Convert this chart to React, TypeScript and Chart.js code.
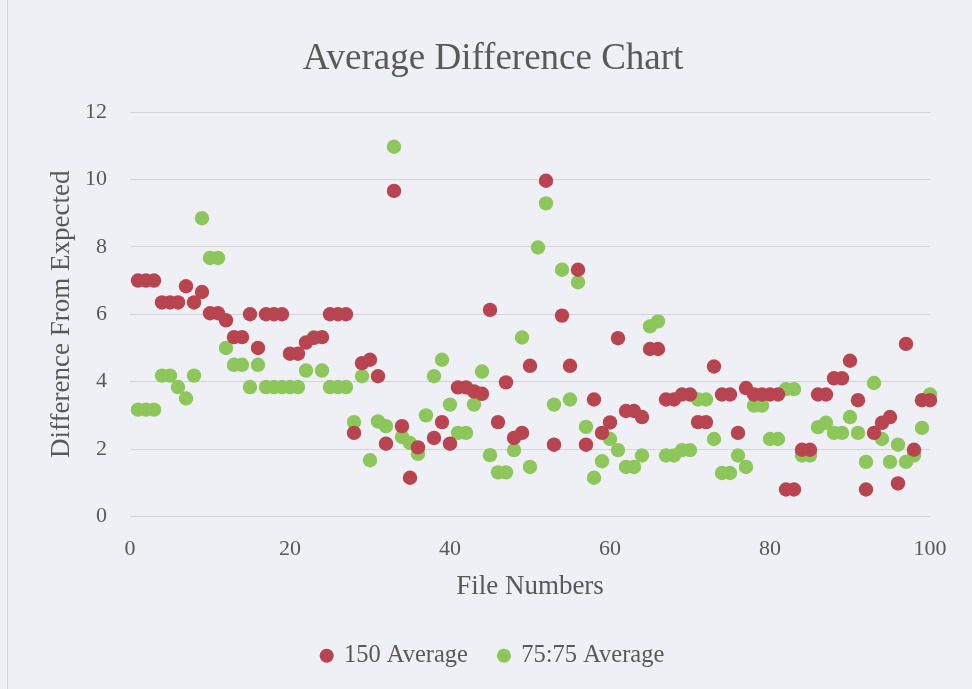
import React, { useEffect, useRef } from "react";
import { Chart, registerables } from "chart.js";

Chart.register(...registerables);

const fileNumbers = [
  1, 2, 3, 4, 5, 6, 7, 8, 9, 10,
  11, 12, 13, 14, 15, 16, 17, 18, 19, 20,
  21, 22, 23, 24, 25, 26, 27, 28, 29, 30,
  31, 32, 33, 34, 35, 36, 37, 38, 39, 40,
  41, 42, 43, 44, 45, 46, 47, 48, 49, 50,
  51, 52, 53, 54, 55, 56, 57, 58, 59, 60,
  61, 62, 63, 64, 65, 66, 67, 68, 69, 70,
  71, 72, 73, 74, 75, 76, 77, 78, 79, 80,
  81, 82, 83, 84, 85, 86, 87, 88, 89, 90,
  91, 92, 93, 94, 95, 96, 97, 98, 99, 100,
];

const avg150: (number | null)[] = [
  7.0, 7.0, 7.0, 6.35, 6.35, 6.35, 6.83, 6.35, 6.66, 6.03,
  6.03, 5.82, 5.32, 5.32, 6.0, 5.0, 6.0, 6.0, 6.0, 4.83,
  4.83, 5.16, 5.3, 5.32, 6.0, 6.0, 6.0, 2.48, 4.55, 4.65,
  4.16, 2.16, 9.66, 2.68, 1.15, 2.05, null, 2.33, 2.8, 2.16,
  3.83, 3.83, 3.71, 3.64, 6.13, 2.8, 3.98, 2.33, 2.48, 4.47,
  null, 9.96, 2.13, 5.96, 4.47, 7.32, 2.13, 3.47, 2.48, 2.79,
  5.29, 3.13, 3.13, 2.95, 4.97, 4.97, 3.47, 3.47, 3.62, 3.62,
  2.8, 2.8, 4.45, 3.62, 3.62, 2.48, 3.81, 3.62, 3.62, 3.62,
  3.62, 0.8, 0.8, 1.98, 1.98, 3.62, 3.62, 4.1, 4.1, 4.62,
  3.45, 0.8, 2.48, 2.78, 2.95, 0.98, 5.12, 1.98, 3.45, 3.45,
];

const avg7575: (number | null)[] = [
  3.17, 3.17, 3.17, 4.18, 4.18, 3.84, 3.5, 4.18, 8.85, 7.67,
  7.67, 5.0, 4.5, 4.5, 3.84, 4.5, 3.84, 3.84, 3.84, 3.84,
  3.84, 4.33, 5.32, 4.33, 3.84, 3.84, 3.84, 2.8, 4.16, 1.67,
  2.82, 2.68, 10.97, 2.36, 2.18, 1.86, 3.0, 4.16, 4.65, 3.32,
  2.48, 2.48, 3.32, 4.3, 1.82, 1.31, 1.31, 1.97, 5.31, 1.47,
  7.98, 9.29, 3.32, 7.32, 3.47, 6.95, 2.66, 1.15, 1.64, 2.3,
  1.97, 1.47, 1.47, 1.81, 5.64, 5.79, 1.81, 1.81, 1.97, 1.97,
  3.47, 3.47, 2.3, 1.29, 1.29, 1.81, 1.47, 3.29, 3.29, 2.3,
  2.3, 3.78, 3.78, 1.81, 1.81, 2.65, 2.78, 2.48, 2.48, 2.95,
  2.48, 1.62, 3.96, 2.3, 1.62, 2.13, 1.62, 1.81, 2.63, 3.62,
];

const seriesNames = ["150 Average", "75:75 Average"];
const xTicks = [0, 20, 40, 60, 80, 100];
const yTicks = [0, 2, 4, 6, 8, 10, 12];

const RED = "#b8444f";
const GREEN = "#8dc65a";
const TEXT = "#595959";
const FONT = "'Liberation Serif', 'Times New Roman', serif";

const toPoints = (ys: (number | null)[]) =>
  fileNumbers
    .map((x, i) => ({ x, y: ys[i] }))
    .filter((p) => p.y !== null) as { x: number; y: number }[];

const frameLine = {
  id: "frameLine",
  beforeDraw(chart: any) {
    const { ctx, height } = chart;
    ctx.save();
    ctx.strokeStyle = "#d6d8de";
    ctx.lineWidth = 1;
    ctx.beginPath();
    ctx.moveTo(7.5, 0);
    ctx.lineTo(7.5, height);
    ctx.stroke();
    ctx.restore();
  },
};

export default function App() {
  const canvasRef = useRef<HTMLCanvasElement | null>(null);

  useEffect(() => {
    document.body.style.margin = "0";
    const canvas = canvasRef.current;
    if (!canvas) return;
    const chart = new Chart(canvas, {
      type: "scatter",
      data: {
        datasets: [
          {
            label: seriesNames[0],
            data: toPoints(avg150),
            backgroundColor: RED,
            borderColor: RED,
            borderWidth: 0,
            pointRadius: 7.2,
            pointHoverRadius: 7.2,
            clip: false,
          },
          {
            label: seriesNames[1],
            data: toPoints(avg7575),
            backgroundColor: GREEN,
            borderColor: GREEN,
            borderWidth: 0,
            pointRadius: 7.2,
            pointHoverRadius: 7.2,
            clip: false,
          },
        ],
      },
      plugins: [frameLine],
      options: {
        animation: false,
        responsive: false,
        devicePixelRatio: 1,
        layout: { padding: { left: 56, right: 42, top: 0, bottom: 11 } },
        plugins: {
          title: {
            display: true,
            text: "Average Difference Chart",
            color: TEXT,
            font: { family: FONT, size: 37, weight: "normal" },
            padding: { top: 37, bottom: 30.6 },
          },
          legend: {
            display: true,
            position: "bottom",
            labels: {
              usePointStyle: true,
              pointStyle: "circle",
              boxWidth: 10,
              boxHeight: 10,
              padding: 31,
              color: TEXT,
              font: { family: FONT, size: 24.5 },
            },
          },
          tooltip: { enabled: false },
        },
        scales: {
          x: {
            type: "linear",
            min: xTicks[0],
            max: xTicks[xTicks.length - 1],
            afterBuildTicks: (s: any) => {
              s.ticks = xTicks.map((v) => ({ value: v }));
            },
            afterFit: (s: any) => {
              s.height = 96;
            },
            grid: { display: false },
            border: { display: false },
            ticks: {
              padding: 12,
              color: TEXT,
              font: { family: FONT, size: 22 },
            },
            title: {
              display: true,
              text: "File Numbers",
              color: TEXT,
              font: { family: FONT, size: 27 },
              padding: { top: 0, bottom: 9 },
            },
          },
          y: {
            type: "linear",
            min: yTicks[0],
            max: yTicks[yTicks.length - 1],
            afterBuildTicks: (s: any) => {
              s.ticks = yTicks.map((v) => ({ value: v }));
            },
            afterFit: (s: any) => {
              s.width = 74;
            },
            grid: { color: "#d3d4d8", drawTicks: false, lineWidth: 1 },
            border: { display: false },
            ticks: {
              padding: 23,
              color: TEXT,
              font: { family: FONT, size: 22 },
            },
            title: {
              display: true,
              text: "Difference From Expected",
              color: TEXT,
              font: { family: FONT, size: 27 },
              padding: { top: -10, bottom: 0 },
            },
          },
        },
      },
    });
    return () => chart.destroy();
  }, []);

  return (
    <div style={{ width: 972, height: 689, background: "#eef0f5" }}>
      <canvas ref={canvasRef} width={972} height={689} style={{ display: "block", width: 972, height: 689 }} />
    </div>
  );
}
